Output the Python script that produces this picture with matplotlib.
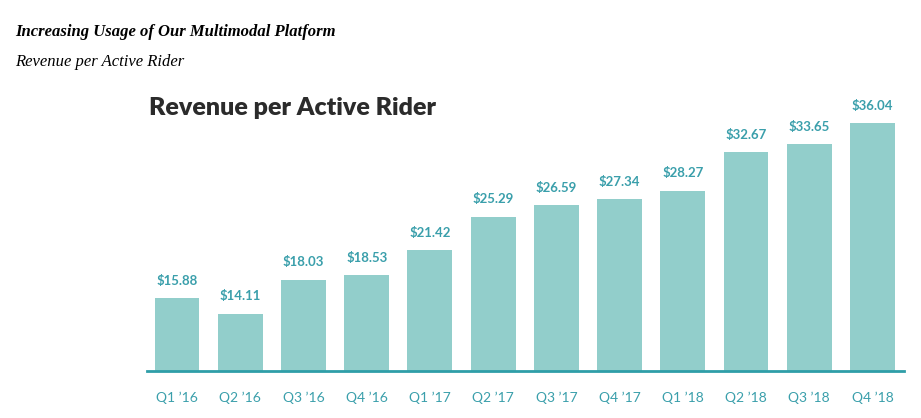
import numpy as np
import matplotlib as mpl
mpl.use('Agg')
import matplotlib.pyplot as plt

# data
quarters = ['Q1 ’16', 'Q2 ’16', 'Q3 ’16', 'Q4 ’16',
            'Q1 ’17', 'Q2 ’17', 'Q3 ’17', 'Q4 ’17',
            'Q1 ’18', 'Q2 ’18', 'Q3 ’18', 'Q4 ’18']
revenue = [15.88, 14.11, 18.03, 18.53, 21.42, 25.29,
           26.59, 27.34, 28.27, 32.67, 33.65, 36.04]

bar_color = '#92cecb'
line_color = '#2f9ea8'
label_color = '#3a9fab'

fig = plt.figure(figsize=(9.21, 4.18), dpi=100)
fig.patch.set_facecolor('white')

# page headings above the chart image
fig.text(15/921, 1 - 32/418, 'Increasing Usage of Our Multimodal Platform',
         family='Liberation Serif', style='italic', weight='bold',
         fontsize=12, va='center', ha='left', color='black')
fig.text(15/921, 1 - 62/418, 'Revenue per Active Rider',
         family='Liberation Serif', style='italic',
         fontsize=12, va='center', ha='left', color='black')

# chart title
fig.text(149/921, 1 - 108/418, 'Revenue per Active Rider',
         family='Lato', weight='heavy', fontsize=18,
         va='center', ha='left', color='#2b2b2b')

ax = fig.add_axes([147/921, 47/418, 757/921, (371 - 90)/418])
x = np.arange(len(quarters))
ax.bar(x, revenue, width=0.71, color=bar_color, zorder=2)
ax.set_xlim(-0.475, 11.5)
ax.set_ylim(7.5, 39.86)

for xi, v in zip(x, revenue):
    ax.annotate('${:.2f}'.format(v), (xi, v), xytext=(0, 9.5),
                textcoords='offset points', ha='center', va='baseline',
                fontsize=9.5, fontweight='bold', family='Lato',
                color=label_color)

for s in ['top', 'left', 'right']:
    ax.spines[s].set_visible(False)
ax.spines['bottom'].set_color(line_color)
ax.spines['bottom'].set_linewidth(2)
ax.spines['bottom'].set_zorder(3)

ax.set_yticks([])
ax.set_xticks(x)
ax.set_xticklabels(quarters, family='Lato', fontsize=10, color=label_color)
ax.tick_params(axis='x', length=0, pad=15)
ax.set_facecolor('white')

fig.savefig('out.png', dpi=100)
